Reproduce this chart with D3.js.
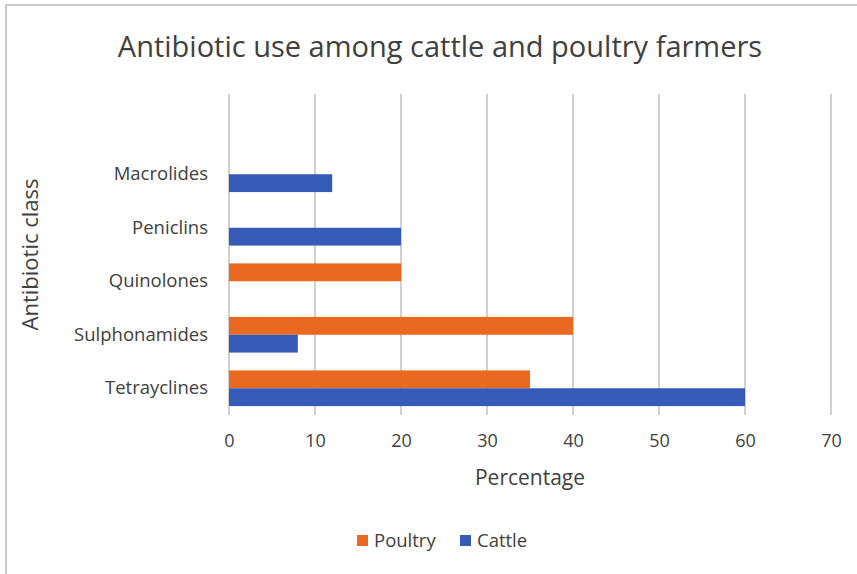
<!DOCTYPE html>
<html>
<head>
<meta charset="utf-8">
<script src="https://cdn.jsdelivr.net/npm/d3@7/dist/d3.min.js"></script>
<style>
  html, body { margin: 0; padding: 0; background: #fff; }
  svg { display: block; }
  text { font-family: "Open Sans", "Noto Sans", sans-serif; fill: #404040; }
</style>
</head>
<body>
<svg id="chart" width="857" height="574"></svg>
<script>
// Antibiotic classes, top to bottom (first slot left empty, as in the source workbook)
const categories = ["", "Macrolides", "Peniclins", "Quinolones", "Sulphonamides", "Tetrayclines"];
const poultry = [null, 0, 0, 20, 40, 35];
const cattle  = [null, 12, 20, 0, 8, 60];
const seriesNames = ["Poultry", "Cattle"];
const seriesColors = ["#E8691F", "#355BB9"];
const xTicks = [0, 10, 20, 30, 40, 50, 60, 70];

const svg = d3.select("#chart");
const W = 857, H = 574;
const plot = { left: 229, right: 831, top: 94, bottom: 415 };

// outer frame (only top and left edges are visible)
svg.append("line").attr("x1", 6).attr("x2", W).attr("y1", 5).attr("y2", 5)
  .attr("stroke", "#c9c9c9").attr("stroke-width", 2);
svg.append("line").attr("x1", 6).attr("x2", 6).attr("y1", 4).attr("y2", H)
  .attr("stroke", "#c9c9c9").attr("stroke-width", 2);

const x = d3.scaleLinear().domain([0, 70]).range([plot.left, plot.right]);
// each category band splits into two bars: poultry above, cattle below
const yBand = d3.scaleBand().domain(categories).range([plot.top, plot.bottom]);
const ySub = d3.scaleBand().domain(seriesNames).range([0, yBand.bandwidth()]).paddingOuter(0.5);

// vertical gridlines
svg.append("g").selectAll("line").data(xTicks).join("line")
  .attr("x1", d => x(d)).attr("x2", d => x(d))
  .attr("y1", plot.top).attr("y2", plot.bottom)
  .attr("stroke", "#d0d0d0").attr("stroke-width", 2);

// bars
const series = [poultry, cattle];
series.forEach((vals, si) => {
  const rows = categories.map((c, i) => ({ c, v: vals[i] })).filter(d => d.v);
  svg.append("g").selectAll("rect").data(rows).join("rect")
    .attr("x", x(0))
    .attr("y", d => yBand(d.c) + ySub(seriesNames[si]))
    .attr("width", d => x(d.v) - x(0))
    .attr("height", ySub.bandwidth())
    .attr("fill", seriesColors[si]);
});

// x axis tick labels
const xAxis = d3.axisBottom(x).tickValues(xTicks).tickSize(0).tickPadding(0);
const gx = svg.append("g").attr("transform", `translate(0,${plot.bottom + 19})`).call(xAxis);
gx.select(".domain").remove();
gx.selectAll("text").style("font-size", "18px").attr("fill", "#404040")
  .style("font-family", '"Open Sans", sans-serif');

// y axis category labels
const yAxis = d3.axisLeft(yBand).tickSize(0).tickPadding(21);
const gy = svg.append("g").attr("transform", `translate(${plot.left},0)`).call(yAxis);
gy.select(".domain").remove();
gy.selectAll("text").style("font-size", "18.5px").attr("fill", "#404040")
  .style("font-family", '"Open Sans", sans-serif');

// title
svg.append("text").attr("x", 440).attr("y", 57).attr("text-anchor", "middle")
  .style("font-size", "29px").text("Antibiotic use among cattle and poultry farmers");

// axis titles
svg.append("text").attr("x", (plot.left + plot.right) / 2).attr("y", 485)
  .attr("text-anchor", "middle").style("font-size", "21px").text("Percentage");
svg.append("text").attr("transform", `translate(38,${(plot.top + plot.bottom) / 2}) rotate(-90)`)
  .attr("text-anchor", "middle").style("font-size", "22px").text("Antibiotic class");

// legend
const legend = svg.append("g").attr("transform", "translate(357,540)");
const legendX = [0, 103];
seriesNames.forEach((name, i) => {
  const g = legend.append("g").attr("transform", `translate(${legendX[i]},0)`);
  g.append("rect").attr("x", 0).attr("y", -5).attr("width", 11).attr("height", 11).attr("fill", seriesColors[i]);
  g.append("text").attr("x", 17).attr("y", 6.5).style("font-size", "18.5px").text(name);
});
</script>
</body>
</html>
